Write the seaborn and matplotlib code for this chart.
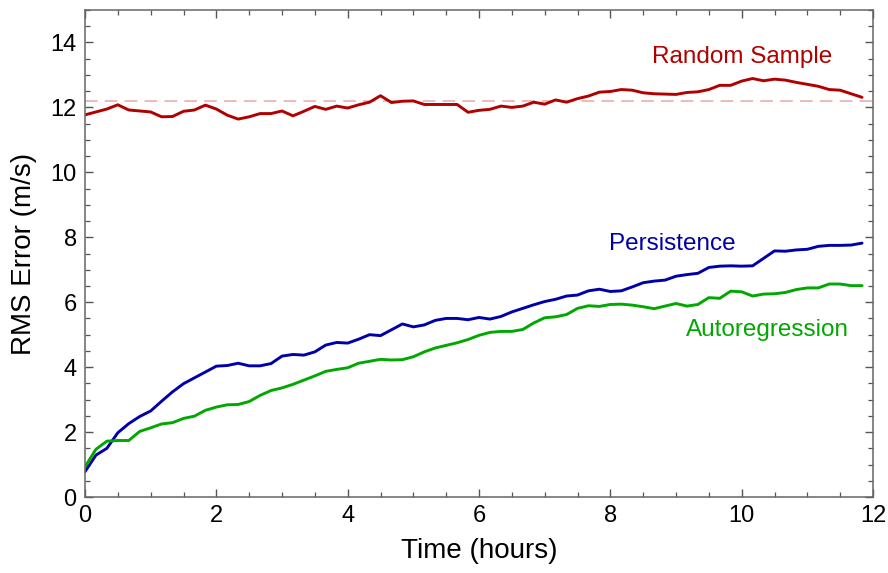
import numpy as np
import pandas as pd
import matplotlib
matplotlib.use('Agg')
import matplotlib.pyplot as plt
from matplotlib.ticker import MultipleLocator
import seaborn as sns

# час у годинах, крок 10 хвилин
time_h = np.arange(72) / 6.0

random_sample = [11.77, 11.86, 11.95, 12.08, 11.92, 11.89, 11.86, 11.71, 11.72, 11.88,
                 11.92, 12.07, 11.95, 11.76, 11.64, 11.71, 11.81, 11.81, 11.89, 11.74,
                 11.88, 12.03, 11.94, 12.04, 11.98, 12.08, 12.16, 12.36, 12.15, 12.19,
                 12.20, 12.09, 12.09, 12.09, 12.09, 11.85, 11.91, 11.94, 12.04, 12.00,
                 12.04, 12.16, 12.10, 12.23, 12.16, 12.27, 12.35, 12.47, 12.49, 12.55,
                 12.53, 12.45, 12.42, 12.41, 12.40, 12.46, 12.48, 12.55, 12.68, 12.68,
                 12.81, 12.89, 12.82, 12.87, 12.84, 12.77, 12.71, 12.65, 12.55, 12.53,
                 12.42, 12.31]

persistence = [0.78, 1.29, 1.50, 1.98, 2.26, 2.48, 2.65, 2.95, 3.24, 3.49,
               3.67, 3.85, 4.03, 4.05, 4.12, 4.04, 4.04, 4.11, 4.34, 4.39,
               4.37, 4.47, 4.68, 4.76, 4.74, 4.86, 5.00, 4.97, 5.15, 5.33,
               5.24, 5.30, 5.44, 5.50, 5.50, 5.46, 5.53, 5.48, 5.56, 5.70,
               5.81, 5.92, 6.02, 6.09, 6.19, 6.22, 6.35, 6.40, 6.33, 6.35,
               6.47, 6.60, 6.65, 6.68, 6.80, 6.85, 6.89, 7.07, 7.11, 7.12,
               7.11, 7.12, 7.35, 7.58, 7.57, 7.61, 7.63, 7.72, 7.75, 7.75,
               7.76, 7.82]

autoregression = [0.93, 1.47, 1.72, 1.74, 1.74, 2.02, 2.13, 2.25, 2.29, 2.42,
                  2.49, 2.67, 2.77, 2.84, 2.85, 2.94, 3.13, 3.28, 3.36, 3.47,
                  3.60, 3.73, 3.87, 3.93, 3.98, 4.12, 4.18, 4.24, 4.22, 4.23,
                  4.32, 4.47, 4.59, 4.67, 4.75, 4.85, 4.98, 5.07, 5.10, 5.10,
                  5.16, 5.36, 5.52, 5.55, 5.62, 5.81, 5.89, 5.87, 5.93, 5.94,
                  5.91, 5.86, 5.80, 5.88, 5.96, 5.88, 5.93, 6.14, 6.12, 6.34,
                  6.32, 6.19, 6.25, 6.26, 6.30, 6.39, 6.44, 6.44, 6.56, 6.56,
                  6.51, 6.51]

random_mean = 12.2

series_names = ['Random Sample', 'Persistence', 'Autoregression']
series_colors = ['#B00000', '#0000AA', '#00A800']

df = pd.DataFrame({'time': time_h,
                   'Random Sample': random_sample,
                   'Persistence': persistence,
                   'Autoregression': autoregression})
long_df = df.melt(id_vars='time', var_name='method', value_name='rms')

sns.set_style('ticks')
plt.rcParams['font.family'] = ['Liberation Sans', 'DejaVu Sans']
plt.rcParams['text.color'] = 'black'

fig = plt.figure(figsize=(8.88, 5.73), dpi=100)
ax = fig.add_axes([85 / 888, 76 / 573, 788 / 888, 487 / 573])

ax.axhline(random_mean, color='#EBB5B5', lw=1.3, dashes=(7, 4), zorder=1)

sns.lineplot(data=long_df, x='time', y='rms', hue='method',
             hue_order=series_names, palette=series_colors,
             linewidth=2.1, legend=False, ax=ax)

# підписи серій
ax.text(10.0, 13.55, 'Random Sample', color=series_colors[0], fontsize=17.5, ha='center', va='center')
ax.text(8.95, 7.8, 'Persistence', color=series_colors[1], fontsize=17.5, ha='center', va='center')
ax.text(10.4, 5.15, 'Autoregression', color=series_colors[2], fontsize=17.5, ha='center', va='center')

ax.set_xlim(0, 12)
ax.set_ylim(0, 15)
ax.xaxis.set_major_locator(MultipleLocator(2))
ax.xaxis.set_minor_locator(MultipleLocator(0.5))
ax.yaxis.set_major_locator(MultipleLocator(2))
ax.yaxis.set_minor_locator(MultipleLocator(0.5))
ax.tick_params(which='both', direction='in', top=True, right=True, color='#555555',
               labelsize=17, labelcolor='black')
ax.tick_params(which='major', length=5.5, width=1, pad=6)
ax.tick_params(which='minor', length=3.5, width=0.9)
for sp in ax.spines.values():
    sp.set_color('#666666')
    sp.set_linewidth(1.1)

ax.set_xlabel('Time (hours)', fontsize=20, color='black', labelpad=8)
ax.set_ylabel('RMS Error (m/s)', fontsize=20, color='black', labelpad=10)

fig.savefig('out.png', dpi=100)
